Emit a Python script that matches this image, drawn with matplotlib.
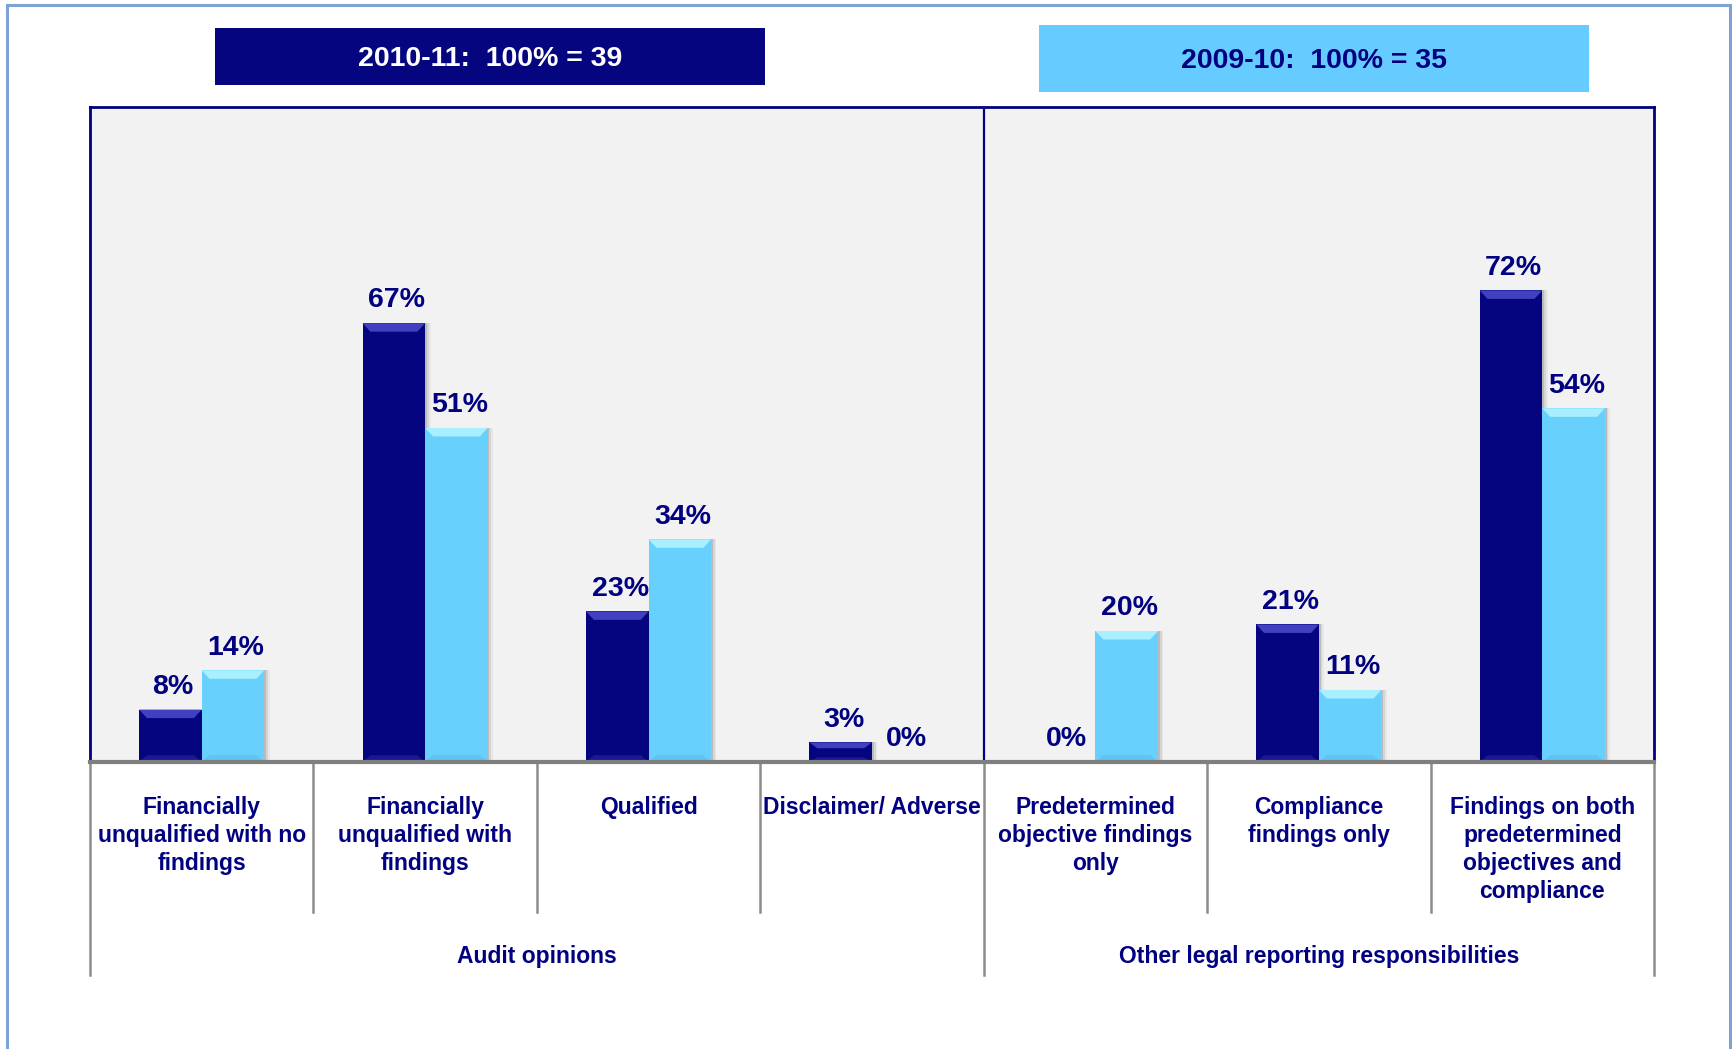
import matplotlib.pyplot as plt
from matplotlib.patches import Rectangle, Polygon
from matplotlib.lines import Line2D
import matplotlib.transforms as mtransforms
import numpy as np

plt.rcParams['font.family'] = ['Liberation Sans', 'DejaVu Sans']
plt.rcParams['font.weight'] = 'bold'

# data
categories = ["Financially\nunqualified with no\nfindings",
              "Financially\nunqualified with\nfindings",
              "Qualified",
              "Disclaimer/ Adverse",
              "Predetermined\nobjective findings\nonly",
              "Compliance\nfindings only",
              "Findings on both\npredetermined\nobjectives and\ncompliance"]
groups = ["Audit opinions", "Other legal reporting responsibilities"]
group_sizes = [4, 3]
series_names = ["2010-11:  100% = 39", "2009-10:  100% = 35"]
pct_2010_11 = [8, 67, 23, 3, 0, 21, 72]
pct_2009_10 = [14, 51, 34, 0, 20, 11, 54]

NAVY = "#05057F"
SKY = "#68D0FD"
TEXT = "#000080"

W, H = 1733, 1049
fig = plt.figure(figsize=(W / 100, H / 100), dpi=100)
fig.patch.set_facecolor("white")

# outer frame (left, top, right)
for xs, ys in [([7, 7], [0, H - 5]), ([7, 1730], [H - 5, H - 5]), ([1730, 1730], [0, H - 5])]:
    fig.add_artist(Line2D(np.array(xs) / W, np.array(ys) / H, color="#7FA2D6", lw=2.2))

# legend boxes at the top
boxes = [(215, 28, 550, 57, NAVY, "white"), (1039, 25, 550, 67, "#66CCFF", TEXT)]
for (x0, y0, bw, bh, fc, tc), name in zip(boxes, series_names):
    fig.add_artist(Rectangle((x0 / W, 1 - (y0 + bh) / H), bw / W, bh / H,
                             transform=fig.transFigure, facecolor=fc, edgecolor="none"))
    fig.text((x0 + bw / 2) / W, 1 - (y0 + bh / 2 + 3) / H, name, ha="center", va="center",
             fontsize=20.5, color=tc, fontweight="bold")

ax = fig.add_axes([90 / W, 1 - 762 / H, 1564 / W, 655 / H])
ax.set_facecolor("#F2F2F2")
ax.set_xlim(-0.5, len(categories) - 0.5)
ax.set_ylim(0, 100)
ax.set_xticks([])
ax.set_yticks([])
for side in ["left", "top", "right"]:
    ax.spines[side].set_color(TEXT)
    ax.spines[side].set_linewidth(2)
ax.spines["bottom"].set_color("#7F7F7F")
ax.spines["bottom"].set_linewidth(3)
ax.spines["bottom"].set_zorder(6)

x = np.arange(len(categories))
bw = 0.28


def bevel(bar, top_col, bot_col):
    # light bevel on top and a faint one at the base of each bar
    bx, by = bar.get_x(), bar.get_y()
    w, h = bar.get_width(), bar.get_height()
    if h <= 0:
        return
    d = min(1.3, h * 0.3)
    ix = 0.035
    ax.add_patch(Polygon([(bx, by + h), (bx + w, by + h), (bx + w - ix, by + h - d), (bx + ix, by + h - d)],
                         closed=True, facecolor=top_col, edgecolor="none", zorder=4))
    ax.add_patch(Polygon([(bx, by), (bx + w, by), (bx + w - ix, by + d * 0.8), (bx + ix, by + d * 0.8)],
                         closed=True, facecolor=bot_col, edgecolor="none", zorder=4))


for vals, off, col, top_col, bot_col in [(pct_2010_11, -bw / 2, NAVY, "#4040C0", "#1A1A90"),
                                          (pct_2009_10, bw / 2, SKY, "#A8F0FF", "#5FC4EE")]:
    # soft shadow to the right
    for k, a in [(0.008, 0.25), (0.016, 0.15), (0.024, 0.08)]:
        ax.bar(x + off + k, vals, bw, color="#707070", alpha=a, zorder=2, linewidth=0)
    bars = ax.bar(x + off, vals, bw, color=col, zorder=3, linewidth=0)
    for b, v in zip(bars, vals):
        bevel(b, top_col, bot_col)
        ax.annotate(f"{v}%", (b.get_x() + b.get_width() / 2, v), xytext=(2, 7),
                    textcoords="offset points", ha="center", va="bottom",
                    fontsize=20.5, color=TEXT, fontweight="bold")

# category and group dividers below the axis
trans = mtransforms.blended_transform_factory(ax.transData, ax.transAxes)
bounds = np.cumsum([0] + group_sizes) - 0.5
for i in range(len(categories) + 1):
    xb = i - 0.5
    ylow = -0.325 if xb in bounds else -0.229
    ax.add_line(Line2D([xb, xb], [0, ylow], transform=trans, color="#8C8C8C", lw=1.8, clip_on=False))
ax.axvline(bounds[1], color=TEXT, lw=1.6, zorder=1)

for xi, lab in zip(x, categories):
    ax.text(xi, -0.052, lab, transform=trans, ha="center", va="top", fontsize=16.5,
            color=TEXT, fontweight="bold", linespacing=1.28)

for g, (lo, hi) in enumerate(zip(bounds[:-1], bounds[1:])):
    ax.text((lo + hi) / 2, -0.297, groups[g], transform=trans, ha="center", va="center",
            fontsize=16.5, color=TEXT, fontweight="bold")

fig.savefig("out.png", dpi=100)
